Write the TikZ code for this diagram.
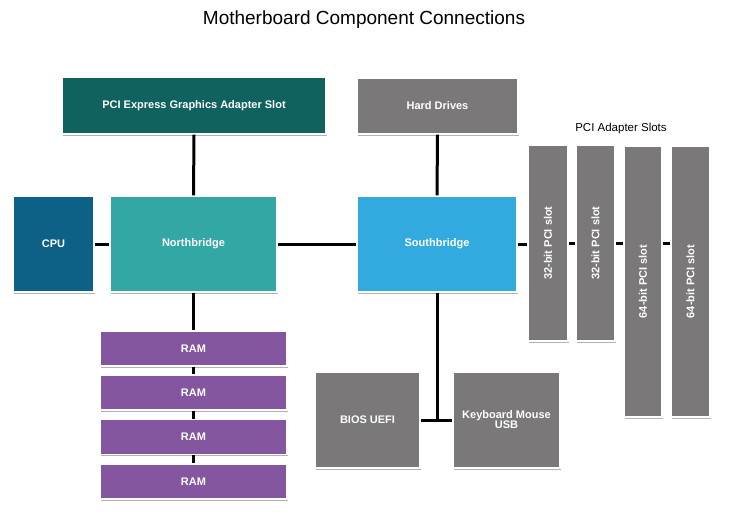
\documentclass[tikz,border=0pt]{standalone}
\usepackage{fontspec}
\setmainfont{Liberation Sans}
\usetikzlibrary{shadows}
\definecolor{pcieC}{HTML}{0F625D}
\definecolor{cpuC}{HTML}{0E6186}
\definecolor{nbC}{HTML}{33A7A3}
\definecolor{sbC}{HTML}{33AADF}
\definecolor{grayC}{HTML}{7A7879}
\definecolor{ramC}{HTML}{8456A0}
\tikzset{
  box/.style={draw=white, line width=1.4pt, text=white, font=\bfseries\fontsize{11}{12}\selectfont,
    inner sep=0pt, align=center,
    drop shadow={shadow xshift=0.8pt, shadow yshift=-1.6pt, opacity=0.3, fill=black}},
  wire/.style={line width=3pt, black},
}
\begin{document}
\begin{tikzpicture}[x=1pt,y=-1pt]
\useasboundingbox (0,0) rectangle (752,525);
\node (title) at (364,20) {\fontsize{19}{21}\selectfont Motherboard Component Connections};
\node[box, fill=pcieC, minimum width=264pt, minimum height=57pt] (pcie) at (194,105.5) {PCI Express Graphics Adapter Slot};
\node[box, fill=grayC, minimum width=161pt, minimum height=56pt] (hd) at (437.5,106) {Hard Drives};
\node[box, fill=cpuC, minimum width=81pt, minimum height=96pt] (cpu) at (53.5,244) {CPU};
\node[box, fill=nbC, minimum width=167pt, minimum height=96pt] (nb) at (193.5,244) {Northbridge};
\node[box, fill=sbC, minimum width=160pt, minimum height=96pt] (sb) at (437,244) {Southbridge};
\node (plabel) at (621,129) {\fontsize{11.5}{13}\selectfont PCI Adapter Slots};
\node[box, fill=grayC, minimum width=40pt, minimum height=196pt] (s1) at (548,243) {\rotatebox{90}{32-bit PCI slot}};
\node[box, fill=grayC, minimum width=39pt, minimum height=196pt] (s2) at (595.5,243) {\rotatebox{90}{32-bit PCI slot}};
\node[box, fill=grayC, minimum width=38pt, minimum height=271pt] (s3) at (643,281.5) {\rotatebox{90}{64-bit PCI slot}};
\node[box, fill=grayC, minimum width=39pt, minimum height=271pt] (s4) at (690.5,281.5) {\rotatebox{90}{64-bit PCI slot}};
\node[box, fill=ramC, minimum width=187pt, minimum height=35pt] (r1) at (193.5,348.5) {RAM};
\node[box, fill=ramC, minimum width=187pt, minimum height=35pt] (r2) at (193.5,392.5) {RAM};
\node[box, fill=ramC, minimum width=187pt, minimum height=35pt] (r3) at (193.5,437) {RAM};
\node[box, fill=ramC, minimum width=187pt, minimum height=35pt] (r4) at (193.5,481.5) {RAM};
\node[box, fill=grayC, minimum width=105pt, minimum height=96pt] (bios) at (367.5,420) {BIOS UEFI};
\node[box, fill=grayC, minimum width=107pt, minimum height=96pt] (kb) at (506.5,420) {Keyboard Mouse\\[-2pt]USB};
\draw[wire] (pcie.south) -- (nb.north);
\draw[wire] (cpu.east) -- (nb.west);
\draw[wire] (nb.east) -- (sb.west);
\draw[wire] (hd.south) -- (sb.north);
\draw[wire] (nb.south) -- (r1.north);
\draw[wire] (r1.south) -- (r2.north);
\draw[wire] (r2.south) -- (r3.north);
\draw[wire] (r3.south) -- (r4.north);
\draw[wire] (sb.east) -- (s1.west |- sb.east);
\draw[wire] (s1.east) -- (s2.west);
\draw[wire] (s2.east) -- (s2.east -| s3.west);
\draw[wire] (s2.east -| s3.east) -- (s2.east -| s4.west);
\draw[wire] (sb.south) -- (sb.south |- bios.east);
\draw[wire] (bios.east) -- (kb.west);
\end{tikzpicture}
\end{document}
